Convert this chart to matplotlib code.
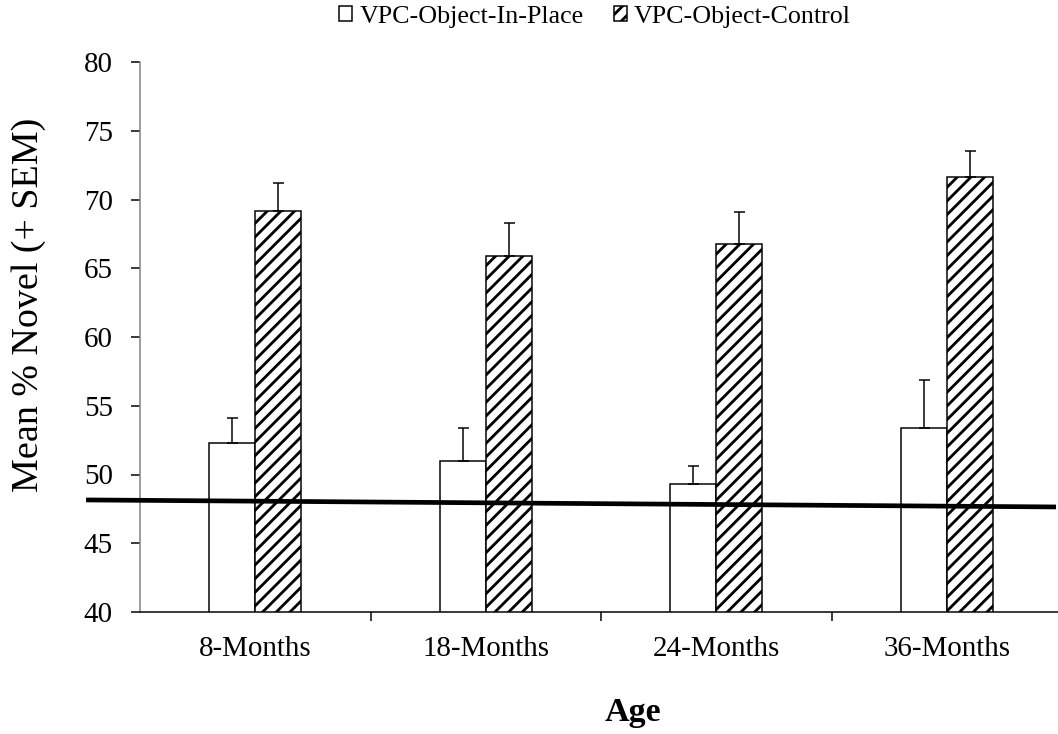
# Mean % novel looking by age, object-in-place vs control VPC task

import numpy as np
import matplotlib.pyplot as plt
from matplotlib.patches import Patch

ages = ["8-Months", "18-Months", "24-Months", "36-Months"]
in_place = [52.3, 51.0, 49.3, 53.4]
in_place_sem = [1.8, 2.4, 1.3, 3.5]
control = [69.2, 65.9, 66.8, 71.65]
control_sem = [2.0, 2.4, 2.3, 1.9]
series_names = ["VPC-Object-In-Place", "VPC-Object-Control"]

# reference line drawn across the plot
ref_x = [-0.734, 3.474]
ref_y = [48.15, 47.64]

DPI = 82
W, H = 1058, 734


def pt(px):
    return px * 72 / DPI


plt.rcParams["font.family"] = ["Liberation Serif", "DejaVu Serif"]
plt.rcParams["hatch.linewidth"] = pt(2.8)

fig = plt.figure(figsize=(W / DPI, H / DPI), dpi=DPI)
ax = fig.add_axes([140 / W, 122 / H, 922 / W, 550 / H])

x = np.arange(len(ages))
bw = 0.2
lw = pt(1.5)

ax.bar(x - bw / 2, in_place, bw, color="white", edgecolor="black", linewidth=lw, zorder=2)
ax.bar(x + bw / 2, control, bw, color="white", edgecolor="black", linewidth=lw,
       hatch="//", zorder=2)

zeros = np.zeros(len(ages))
ax.errorbar(x - bw / 2, in_place, yerr=[zeros, in_place_sem], fmt="none", ecolor="black",
            elinewidth=lw, capsize=pt(5.5), capthick=lw, zorder=3)
ax.errorbar(x + bw / 2, control, yerr=[zeros, control_sem], fmt="none", ecolor="black",
            elinewidth=lw, capsize=pt(5.5), capthick=lw, zorder=3)

ax.plot(ref_x, ref_y, color="black", linewidth=pt(4.7), clip_on=False, zorder=4,
        solid_capstyle="butt")

ax.set_xlim(-0.5, 3.5)
ax.set_ylim(40, 80)
ax.set_yticks(np.arange(40, 81, 5))

# category separators as major ticks, labels at the centres
ax.set_xticks(x[:-1] + 0.5)
ax.set_xticklabels([])
ax.set_xticks(x, minor=True)
ax.set_xticklabels(ages, minor=True, fontsize=pt(29))
ax.tick_params(axis="x", which="major", direction="out", length=pt(9), width=lw)
ax.tick_params(axis="x", which="minor", length=0, pad=pt(24))
ax.tick_params(axis="y", direction="out", length=pt(9), width=lw, labelsize=pt(29),
               pad=pt(18))

for side in ["top", "right"]:
    ax.spines[side].set_visible(False)
ax.spines["left"].set_color("#808080")
ax.spines["left"].set_linewidth(lw)
ax.spines["bottom"].set_linewidth(lw)

fig.text(29 / W, 1 - 305 / H, "Mean % Novel (+ SEM)", rotation=90, fontsize=pt(38),
         ha="center", va="center")
fig.text(633 / W, 1 - 713 / H, "Age", fontsize=pt(34), fontweight="bold",
         ha="center", va="center")

handles = [
    Patch(facecolor="white", edgecolor="black", linewidth=lw),
    Patch(facecolor="white", edgecolor="black", linewidth=lw, hatch="//"),
]
fig.legend(handles, series_names, loc="center", bbox_to_anchor=(595 / W, 1 - 17 / H),
           ncol=2, frameon=False, fontsize=pt(26), handlelength=0.5, handleheight=0.5,
           handletextpad=0.27, columnspacing=1.15, borderpad=0)

fig.savefig("out.png", dpi=DPI)
